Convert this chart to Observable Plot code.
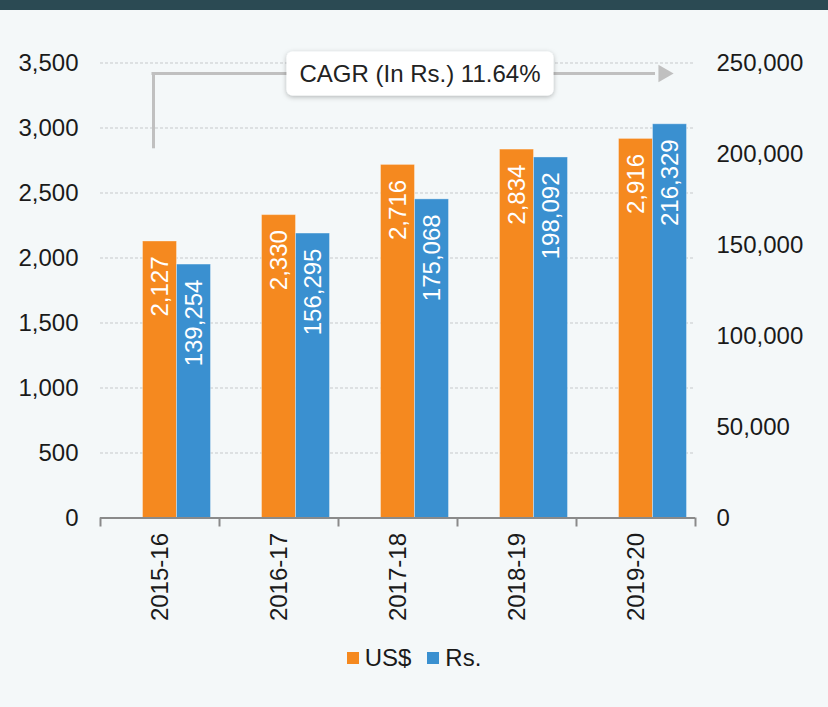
<!DOCTYPE html>
<html>
<head>
<meta charset="utf-8">
<script src="https://cdn.jsdelivr.net/npm/d3@7"></script>
<script src="https://cdn.jsdelivr.net/npm/@observablehq/plot@0.6"></script>
<style>
  html, body { margin: 0; padding: 0; }
  body { width: 828px; height: 707px; overflow: hidden; background: #f4f8f9; font-family: "Liberation Sans", Arial, sans-serif; }
  .topbar { height: 10px; background: #2b4a53; }
  #chart svg { display: block; }
  .legend { height: 36px; display: flex; justify-content: center; align-items: center; font-size: 24px; color: #1a1a1a; }
  .legend .item { display: flex; align-items: center; margin: 0 8px; }
  .legend .sw { width: 12px; height: 12px; margin-right: 6px; }
</style>
</head>
<body>
<div class="topbar"></div>
<div id="chart"></div>
<div class="legend" id="legend"></div>
<script>
// ---- data ----
const years = ["2015-16", "2016-17", "2017-18", "2018-19", "2019-20"];
const usd = [2127, 2330, 2716, 2834, 2916];
const rs = [139254, 156295, 175068, 198092, 216329];
const usdTicks = [0, 500, 1000, 1500, 2000, 2500, 3000, 3500];
const rsTicks = [0, 50000, 100000, 150000, 200000, 250000];
const seriesNames = ["US$", "Rs."];
const colors = ["#f5891f", "#3a90d0"];
const cagrLabel = "CAGR (In Rs.) 11.64%";
const cagrLevel = [3420];       // horizontal arrow level (US$ axis units)
const cagrStart = [2840];       // start of vertical stem (US$ axis units)

// ---- derived ----
const ratio = usdTicks[usdTicks.length - 1] / rsTicks[rsTicks.length - 1];
const rows = years.map((y, i) => ({year: y, usd: usd[i], rs: rs[i]}));
const fmt = d3.format(",");
const first = years[0], last = years[years.length - 1], mid = years[2];

const W = 828, H = 630;
const mL = 100, mR = 133, mT = 52.5, mB = 122.5;
const step = (W - mL - mR) / years.length;
const barW = 34;
const inset = (step - barW) / 2;
const fs = 24;
const gridColor = "#c6c9cb";
const annColor = "#c0c0c0";

const plot = Plot.plot({
  width: W, height: H,
  marginLeft: mL, marginRight: mR, marginTop: mT, marginBottom: mB,
  style: {background: "transparent", fontFamily: "'Liberation Sans', Arial, sans-serif", fontSize: fs + "px", color: "#1a1a1a"},
  x: {type: "band", domain: years, padding: 0, axis: null, label: null},
  y: {domain: [0, usdTicks[usdTicks.length - 1]], axis: null, label: null},
  marks: [
    Plot.ruleY(usdTicks.filter(d => d > 0), {stroke: gridColor, strokeWidth: 1, strokeDasharray: "3,2"}),
    Plot.barY(rows, {x: "year", y: "usd", fill: colors[0], insetLeft: inset, insetRight: inset,
      stroke: "#ffffff", strokeOpacity: 0.35, strokeWidth: 1}),
    Plot.barY(rows, {x: "year", y: d => d.rs * ratio, fill: colors[1], insetLeft: inset + barW, insetRight: inset - barW,
      stroke: "#ffffff", strokeOpacity: 0.35, strokeWidth: 1}),
    Plot.text(rows, {x: "year", y: "usd", text: d => fmt(d.usd), rotate: -90, textAnchor: "end",
      dy: 15, fill: "white", fontSize: fs}),
    Plot.text(rows, {x: "year", y: d => d.rs * ratio, text: d => fmt(d.rs), rotate: -90, textAnchor: "end",
      dy: 15, dx: barW, fill: "white", fontSize: fs}),
    Plot.ruleY([0], {stroke: "#8a8a8a", strokeWidth: 2}),
    Plot.ruleX(years, {x: d => d, y1: 0, y2: 0, insetBottom: -9, dx: -step / 2, stroke: "#8a8a8a", strokeWidth: 2}),
    Plot.ruleX([last], {x: d => d, y1: 0, y2: 0, insetBottom: -9, dx: step / 2, stroke: "#8a8a8a", strokeWidth: 2}),
    Plot.axisX({tickSize: 0, tickPadding: 15, tickRotate: -90, fontSize: fs, label: null, fill: "#1a1a1a"}),
    Plot.axisY(usdTicks, {anchor: "left", tickSize: 0, tickPadding: 22, tickFormat: fmt, fontSize: fs, label: null, fill: "#1a1a1a"}),
    Plot.axisY(rsTicks.map(d => d * ratio), {anchor: "right", tickSize: 0, tickPadding: 21,
      tickFormat: d => fmt(Math.round(d / ratio)), fontSize: fs, label: null, fill: "#1a1a1a"}),
    // CAGR annotation
    Plot.ruleX([first], {x: d => d, y1: () => cagrStart[0], y2: () => cagrLevel[0], dx: -6.5, stroke: annColor, strokeWidth: 3}),
    Plot.ruleY(cagrLevel, {y: d => d, x1: () => first, x2: () => last, insetLeft: 51.5, insetRight: 40,
      stroke: annColor, strokeWidth: 3}),
    Plot.dot([last], {x: d => d, y: () => cagrLevel[0], symbol: "triangle", rotate: 90, r: 6.5,
      fill: annColor, stroke: "none", dx: 27.5}),
    Plot.text([cagrLabel], {x: () => mid, y: () => cagrLevel[0], text: d => d, dx: 22, dy: 1, fontSize: fs, fill: "#222"})
  ]
});

document.getElementById("chart").appendChild(plot);

// rounded white box with soft shadow behind the CAGR label
const svg = d3.select(plot);
const defs = svg.insert("defs", ":first-child");
const f = defs.append("filter").attr("id", "shadow").attr("x", "-20%").attr("y", "-40%").attr("width", "140%").attr("height", "180%");
f.append("feDropShadow").attr("dx", 0).attr("dy", 1.5).attr("stdDeviation", 2.5).attr("flood-color", "#000").attr("flood-opacity", 0.28);
svg.selectAll("text").filter(function() { return this.textContent === cagrLabel; }).each(function() {
  const bb = this.getBBox();
  const g = this.parentNode;
  const padX = 13, padY = 8.5;
  d3.select(g).insert("rect", ":first-child")
    .attr("x", bb.x - padX).attr("y", bb.y - padY)
    .attr("width", bb.width + 2 * padX).attr("height", bb.height + 2 * padY)
    .attr("rx", 6).attr("fill", "#ffffff").attr("filter", "url(#shadow)")
    .attr("transform", this.getAttribute("transform"));
});

// legend
const lg = d3.select("#legend");
seriesNames.forEach((n, i) => {
  const it = lg.append("div").attr("class", "item");
  it.append("div").attr("class", "sw").style("background", colors[i]);
  it.append("span").text(n);
});
</script>
</body>
</html>
